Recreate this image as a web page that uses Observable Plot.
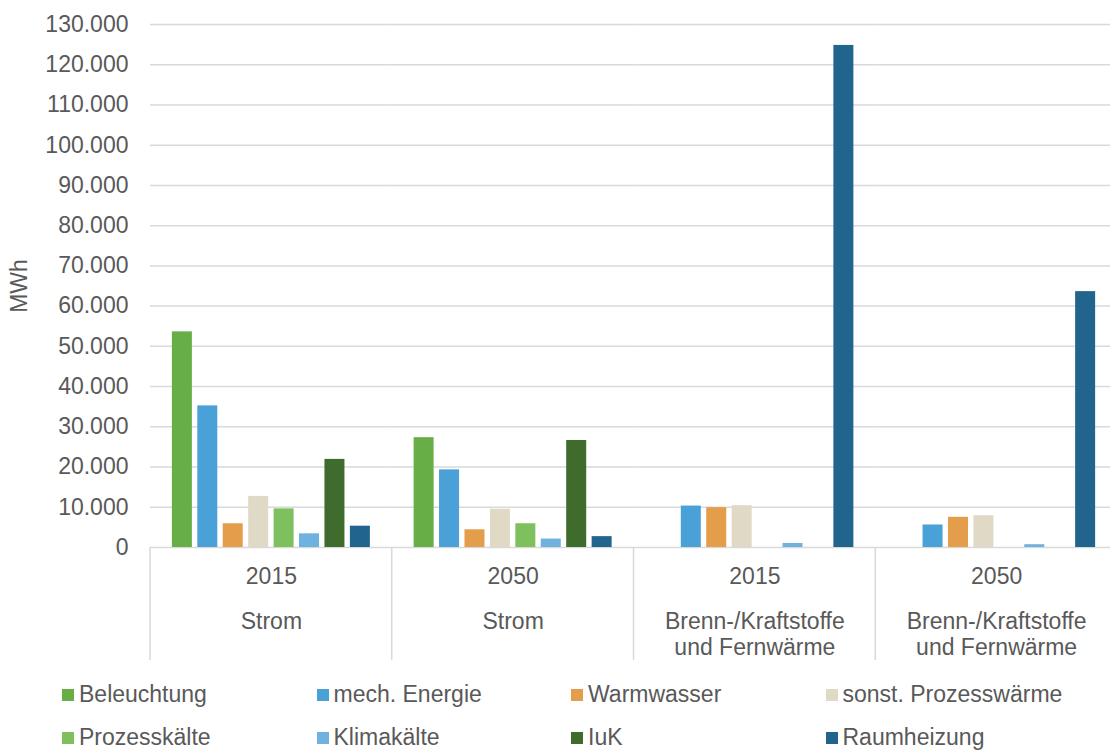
<!DOCTYPE html>
<html>
<head>
<meta charset="utf-8">
<script src="https://cdn.jsdelivr.net/npm/d3@7"></script>
<script src="https://cdn.jsdelivr.net/npm/@observablehq/plot@0.6"></script>
<style>
  html, body { margin: 0; padding: 0; background: #fff; overflow: hidden; }
  body { font-family: "Liberation Sans", Arial, sans-serif; color: #595959; }
  #chart svg { display: block; max-width: none !important; height: 670px !important; }
  .legend { display: grid; grid-template-columns: repeat(4, 254.5px); padding-left: 62px; padding-top: 3px; }
  .legend .item { display: flex; align-items: center; height: 43px; font-size: 23px; color: #595959; white-space: nowrap; }
  .legend .sw { width: 12px; height: 12px; margin-right: 5px; flex: none; }
</style>
</head>
<body>
<div id="chart"></div>
<div class="legend" id="legend"></div>
<script>
// ---- data ----
const categories = ["2015 Strom", "2050 Strom", "2015 Brenn", "2050 Brenn"];
const years = ["2015", "2050", "2015", "2050"];
const carriers = ["Strom", "Strom", "Brenn-/Kraftstoffe\nund Fernwärme", "Brenn-/Kraftstoffe\nund Fernwärme"];
const series = ["Beleuchtung", "mech. Energie", "Warmwasser", "sonst. Prozesswärme", "Prozesskälte", "Klimakälte", "IuK", "Raumheizung"];
const colors = ["#67AE47", "#4AA1D7", "#E49D4B", "#DFD9C6", "#7EBF5E", "#70B2DF", "#3F6B2C", "#21648E"];
const values2015Strom = [53600, 35200, 5900, 12700, 9600, 3400, 21900, 5300];
const values2050Strom = [27300, 19300, 4400, 9500, 5900, 2100, 26600, 2700];
const values2015Brenn = [0, 10300, 9900, 10400, 0, 1000, 0, 124800];
const values2050Brenn = [0, 5600, 7500, 7900, 0, 700, 0, 63600];
const yTicks = [0, 10000, 20000, 30000, 40000, 50000, 60000, 70000, 80000, 90000, 100000, 110000, 120000, 130000];
const yLabel = "MWh";

const valueSets = [values2015Strom, values2050Strom, values2015Brenn, values2050Brenn];
const data = [];
categories.forEach((g, gi) => series.forEach((s, si) => data.push({group: g, series: s, value: valueSets[gi][si]})));

const de = d3.formatLocale({decimal: ",", thousands: ".", grouping: [3], currency: ["", " €"]});
const fmt = de.format(",.0f");

const plot = Plot.plot({
  width: 1117,
  height: 670,
  marginLeft: 150,
  marginRight: 0,
  marginTop: 24,
  marginBottom: 123,
  style: {fontFamily: "'Liberation Sans', Arial, sans-serif", fontSize: "23px", color: "#595959", background: "#fff", overflow: "visible", maxWidth: "none"},
  fx: {domain: categories, padding: 0, label: null, round: false},
  x: {domain: series, paddingInner: 0.2135, paddingOuter: 0.86, axis: null, round: false},
  y: {domain: [0, 130000]},
  color: {domain: series, range: colors},
  marks: [
    Plot.gridY(yTicks, {stroke: "#d9d9d9", strokeOpacity: 1, strokeWidth: 1.5}),
    Plot.barY(data, {fx: "group", x: "series", y: "value", fill: "series"}),
    Plot.axisY(yTicks, {tickSize: 0, tickPadding: 22, tickFormat: fmt, label: yLabel, labelAnchor: "center", labelArrow: false, labelOffset: 140, fontSize: 23, fill: "#595959"}),
    Plot.axisFx({anchor: "bottom", tickSize: 0, tickPadding: 20, tickFormat: k => years[categories.indexOf(k)], label: null, fontSize: 23, fill: "#595959"}),
    Plot.axisFx({anchor: "bottom", tickSize: 0, tickPadding: 63, tickFormat: k => carriers[categories.indexOf(k)], label: null, fontSize: 23, lineHeight: 1.13, fill: "#595959"})
  ]
});
document.getElementById("chart").appendChild(plot);

// category separators below the baseline
const fxs = plot.scale("fx");
const ys = plot.scale("y");
const band = d3.scaleBand().domain(fxs.domain).range(fxs.range).padding(0);
const y0 = ys.range[0];
const sep = d3.select(plot).append("g").attr("stroke", "#d9d9d9").attr("stroke-width", 1.5);
fxs.domain.forEach(k => {
  const x = band(k);
  sep.append("line").attr("x1", x).attr("x2", x).attr("y1", y0).attr("y2", y0 + 113);
});

// legend
const leg = d3.select("#legend");
series.forEach((s, i) => {
  const it = leg.append("div").attr("class", "item");
  it.append("div").attr("class", "sw").style("background", colors[i]);
  it.append("span").text(s);
});
</script>
</body>
</html>
